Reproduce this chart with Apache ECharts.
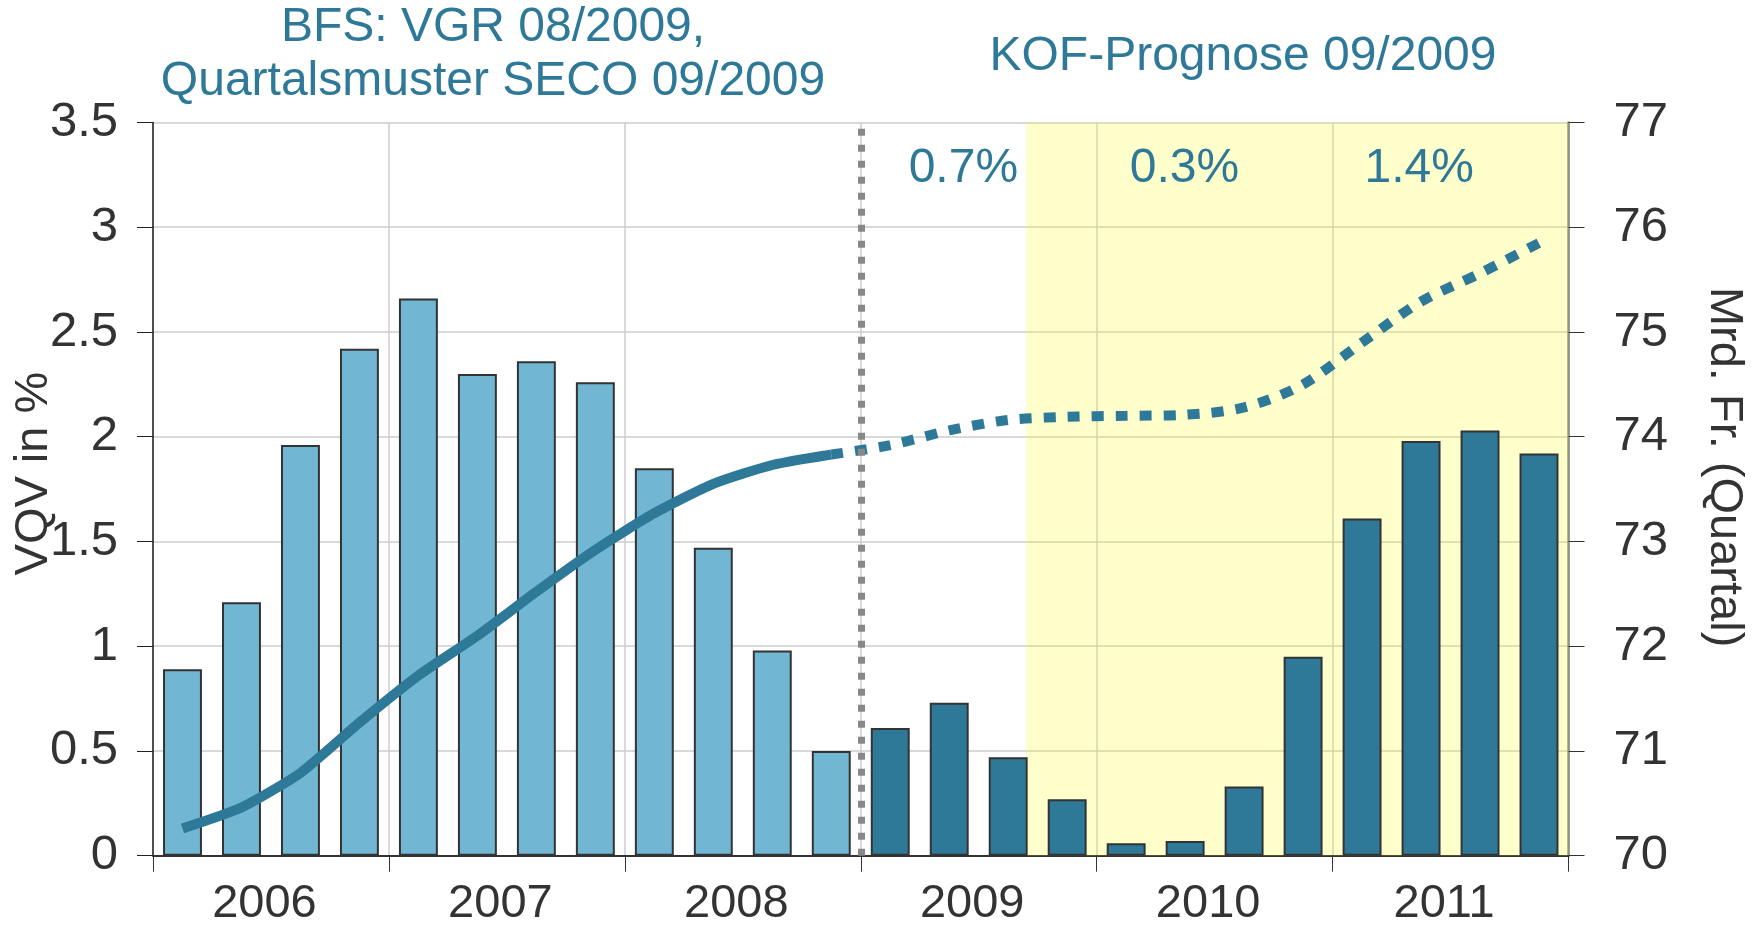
<!DOCTYPE html>
<html lang="de">
<head>
    <meta charset="UTF-8">
    <title>VQV KOF-Prognose</title>
    <script src="https://cdn.jsdelivr.net/npm/echarts@6/dist/echarts.min.js"></script>
    <style>
        body { margin: 0; background: #fff; }
    </style>
</head>
<body>
<div id="main" style="width: 1763px;height:927px;"></div>
<script type="text/javascript">
    // Quartale 2006 - 2011
    var quarters = [
        '2006 Q1', '2006 Q2', '2006 Q3', '2006 Q4',
        '2007 Q1', '2007 Q2', '2007 Q3', '2007 Q4',
        '2008 Q1', '2008 Q2', '2008 Q3', '2008 Q4',
        '2009 Q1', '2009 Q2', '2009 Q3', '2009 Q4',
        '2010 Q1', '2010 Q2', '2010 Q3', '2010 Q4',
        '2011 Q1', '2011 Q2', '2011 Q3', '2011 Q4'
    ];
    // VQV in % (Balken): BFS bis 2008, KOF-Prognose ab 2009
    var vqvBFS  = [0.89, 1.21, 1.96, 2.42, 2.66, 2.30, 2.36, 2.26, 1.85, 1.47, 0.98, 0.50];
    var vqvKOF  = [0.61, 0.73, 0.47, 0.27, 0.06, 0.07, 0.33, 0.95, 1.61, 1.98, 2.03, 1.92];
    // Mrd. Fr. (Linie, rechte Achse)
    var levelBFS = [70.26, 70.46, 70.79, 71.27, 71.72, 72.10, 72.52, 72.92, 73.27, 73.55, 73.73, 73.83];
    var levelKOF = [73.83, 73.92, 74.06, 74.16, 74.19, 74.20, 74.21, 74.28, 74.50, 74.90, 75.29, 75.56, 75.85];
    // Jahreswachstum Prognose
    var growthLabels = ['0.7%', '0.3%', '1.4%'];
    var growthPos = [13.74, 17.49, 21.47];   // position in Quartalen
    var forecastStart = 12;      // Trennlinie
    var shadeStart = 14.8;       // gelber Bereich

    var blue = '#2e7898';
    var lightBlue = '#71b7d4';

    var barData = [];
    for (var i = 0; i < vqvBFS.length; i++) {
        barData.push({value: vqvBFS[i], itemStyle: {color: lightBlue}});
    }
    for (var i = 0; i < vqvKOF.length; i++) {
        barData.push({value: vqvKOF[i], itemStyle: {color: blue}});
    }
    var lineSolid = [];
    var lineDotted = [];
    for (var i = 0; i < quarters.length; i++) {
        lineSolid.push(i < levelBFS.length ? levelBFS[i] : null);
        var k = i - (levelBFS.length - 1);
        lineDotted.push(k >= 0 ? levelKOF[k] : null);
    }
    var growthData = [];
    for (var i = 0; i < growthLabels.length; i++) {
        growthData.push({value: [growthPos[i], 3.28], label: {formatter: growthLabels[i]}});
    }

    var myChart = echarts.init(document.getElementById('main'));
    var font = 'Liberation Sans, Arial, sans-serif';
    var option = {
        animation: false,
        textStyle: {fontFamily: font},
        grid: {left: 153, right: 194.5, top: 122.5, bottom: 71.3, containLabel: false, outerBoundsMode: 'none'},
        graphic: [
            {type: 'text', x: 493, y: 28, style: {text: 'BFS: VGR 08/2009,', fill: blue, font: '48px ' + font, textAlign: 'center', textVerticalAlign: 'middle'}},
            {type: 'text', x: 493, y: 82, style: {text: 'Quartalsmuster SECO 09/2009', fill: blue, font: '48px ' + font, textAlign: 'center', textVerticalAlign: 'middle'}},
            {type: 'text', x: 1243, y: 57, style: {text: 'KOF-Prognose 09/2009', fill: blue, font: '48px ' + font, textAlign: 'center', textVerticalAlign: 'middle'}}
        ],
        xAxis: [
            {
                type: 'category',
                data: quarters,
                axisLine: {lineStyle: {color: '#333', width: 2}},
                axisTick: {show: true, interval: 3, length: 16, lineStyle: {color: '#333'}},
                splitLine: {show: true, interval: 3, lineStyle: {color: '#ccc', width: 1.5}},
                axisLabel: {
                    interval: function (index) { return index % 4 === 1; },
                    formatter: function (v) { return v.slice(0, 4); },
                    fontSize: 47, color: '#333', margin: 25,
                    padding: [0, 0, 0, 46]
                }
            },
            {type: 'value', min: 0, max: 24, show: false}
        ],
        yAxis: [
            {
                type: 'value', min: 0, max: 3.5, interval: 0.5,
                name: 'VQV in %', nameLocation: 'middle', nameGap: 95, nameMoveOverlap: false,
                nameTextStyle: {fontSize: 47, color: '#333', padding: [0, 0, 0, 31]},
                axisLine: {show: true, lineStyle: {color: '#222', width: 1.5}},
                axisTick: {show: true, length: 16, lineStyle: {color: '#222'}},
                axisLabel: {fontSize: 49, color: '#333', margin: 35},
                splitLine: {lineStyle: {color: '#ccc', width: 1.5}}
            },
            {
                type: 'value', min: 70, max: 77, interval: 1, position: 'right',
                name: 'Mrd. Fr. (Quartal)', nameLocation: 'middle', nameGap: 132, nameRotate: -90,
                nameMoveOverlap: false,
                nameTextStyle: {fontSize: 47, color: '#333', padding: [0, 44, 0, 0]},
                axisLine: {show: true, lineStyle: {color: '#888', width: 2.5}},
                axisTick: {show: true, length: 16, lineStyle: {color: '#333'}},
                axisLabel: {fontSize: 49, color: '#333', margin: 45},
                splitLine: {show: false}
            }
        ],
        series: [
            {
                name: 'Prognosebereich',
                type: 'line',
                xAxisIndex: 1, yAxisIndex: 0,
                data: [],
                z: 1,
                markArea: {
                    silent: true,
                    itemStyle: {color: 'rgba(255,255,0,0.2)'},
                    data: [[{xAxis: shadeStart}, {xAxis: 24}]]
                }
            },
            {
                name: 'VQV',
                type: 'bar',
                data: barData,
                barWidth: '66%',
                itemStyle: {borderColor: '#333', borderWidth: 2},
                z: 2
            },
            {
                name: 'Niveau BFS',
                type: 'line',
                yAxisIndex: 1,
                data: lineSolid,
                smooth: 0.2,
                symbol: 'none',
                lineStyle: {color: blue, width: 10},
                z: 3
            },
            {
                name: 'Niveau KOF',
                type: 'line',
                yAxisIndex: 1,
                data: lineDotted,
                smooth: 0.3,
                symbol: 'none',
                lineStyle: {color: blue, width: 10, type: [12, 12], cap: 'butt'},
                z: 3
            },
            {
                name: 'Wachstum',
                type: 'scatter',
                xAxisIndex: 1, yAxisIndex: 0,
                symbolSize: 0,
                data: growthData,
                itemStyle: {opacity: 1},
                label: {show: true, position: 'inside', fontSize: 48, color: blue},
                z: 10,
                markLine: {
                    silent: true,
                    symbol: 'none',
                    label: {show: false},
                    lineStyle: {color: '#888', width: 7, type: [7, 9]},
                    data: [{xAxis: forecastStart}]
                }
            }
        ]
    };
    myChart.setOption(option);
</script>
</body>
</html>
